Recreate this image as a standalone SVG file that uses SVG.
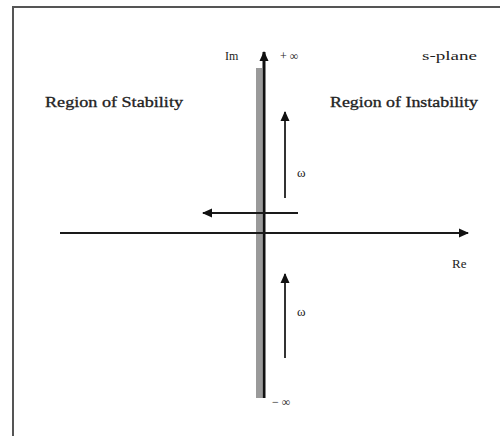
<svg xmlns="http://www.w3.org/2000/svg" width="500" height="436" viewBox="0 0 500 436">
<defs>
<style>
text{font-family:"Liberation Serif","Times New Roman",serif;fill:#222}
.lbl{font-size:14px;stroke:#222;stroke-width:0.3}
.sm{font-size:12px}
.md{font-size:13px}
.ax{stroke:#1a1a1a;stroke-width:2;fill:none}
</style>
<marker id="ah" markerWidth="10" markerHeight="10" refX="9" refY="5" orient="auto" markerUnits="userSpaceOnUse">
<path d="M0,0.5 L10,5 L0,9.5 Z" fill="#111"/>
</marker>
</defs>
<rect width="500" height="436" fill="#fff"/>
<g id="frame">
<path d="M13,436 V7 H500" stroke="#555" stroke-width="2" fill="none"/>
</g>
<g id="connectors">
<rect x="256" y="68" width="6" height="330" fill="#9a9a9a"/>
<line x1="264" y1="398" x2="264" y2="52" stroke="#111" stroke-width="3" marker-end="url(#ah)"/>
<line class="ax" x1="60" y1="233" x2="468" y2="233" marker-end="url(#ah)"/>
<line class="ax" x1="298" y1="213" x2="203" y2="213" marker-end="url(#ah)"/>
<line x1="285" y1="198" x2="285" y2="112" stroke="#333" stroke-width="2" marker-end="url(#ah)"/>
<line x1="285" y1="358" x2="285" y2="274" stroke="#333" stroke-width="2" marker-end="url(#ah)"/>
</g>
<g id="labels">
<text class="sm" x="225" y="60">Im</text>
<text class="sm" x="280" y="60">+ ∞</text>
<text class="sm" x="422" y="60" textLength="55" lengthAdjust="spacingAndGlyphs">s-plane</text>
<text class="lbl" x="45" y="107" textLength="138" lengthAdjust="spacingAndGlyphs">Region of Stability</text>
<text class="lbl" x="330" y="107" textLength="148" lengthAdjust="spacingAndGlyphs">Region of Instability</text>
<text class="md" x="297" y="177">ω</text>
<text class="md" x="297" y="316">ω</text>
<text class="md" x="452" y="268">Re</text>
<text class="sm" x="272" y="406">− ∞</text>
</g>
</svg>
